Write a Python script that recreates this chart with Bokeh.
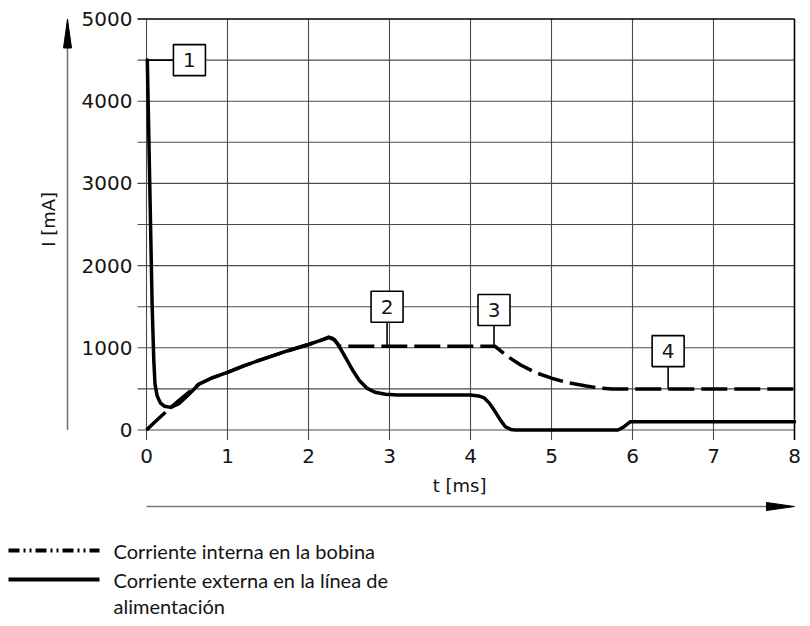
import math
from bokeh.plotting import figure
from bokeh.models import Range1d
from bokeh.core.properties import value
from bokeh.embed import file_html
from bokeh.resources import INLINE

# ---------------- data ----------------
# internal coil current (dashed)
t_coil = [0.0, 0.1, 0.2, 0.3, 0.45, 0.65, 0.8, 1.0, 1.2, 1.4, 1.7, 2.0, 2.15, 2.25, 2.32, 2.38,
          4.30, 4.45, 4.62, 4.80, 5.00, 5.20, 5.43, 5.60, 5.75, 8.0]
i_coil = [0, 95, 185, 275, 400, 560, 630, 700, 780, 850, 950, 1040, 1090, 1125, 1100, 1020,
          1020, 900, 790, 700, 630, 575, 535, 510, 500, 500]

# external current in the supply line (solid)
t_ext = [0.01, 0.04, 0.07, 0.09, 0.105, 0.13, 0.17, 0.22, 0.3, 0.4, 0.5, 0.65, 0.8, 1.0, 1.2, 1.4, 1.7,
         2.0, 2.15, 2.25, 2.3, 2.35, 2.4, 2.47, 2.55, 2.63, 2.72, 2.82, 2.95, 3.1,
         4.0, 4.1, 4.17, 4.23, 4.3, 4.37, 4.43, 4.5, 4.55, 5.82, 5.88, 5.97, 8.0]
i_ext = [4500, 3000, 1500, 850, 560, 420, 330, 290, 275, 320, 410, 560, 630, 700, 780, 850, 950,
         1040, 1090, 1130, 1115, 1060, 980, 860, 720, 600, 510, 460, 435, 425,
         425, 415, 390, 330, 230, 120, 40, 5, 0, 0, 30, 100, 100]

x_ticks = [0, 1, 2, 3, 4, 5, 6, 7, 8]
x_tick_labels = ["0", "1", "2", "3", "4", "5", "6", "7", "8"]
y_ticks = [0, 1000, 2000, 3000, 4000, 5000]
y_tick_labels = ["0", "1000", "2000", "3000", "4000", "5000"]
y_minor = [500, 1500, 2500, 3500, 4500]

callout_labels = ["1", "2", "3", "4"]
callout_x = [0.53, 2.97, 4.29, 6.44]
callout_y = [4500, 1500, 1460, 960]

legend_lines = ["Corriente interna en la bobina", "Corriente externa en la línea de", "alimentación"]

x_label = "t  [ms]"
y_label = "I  [mA]"

# ---------------- geometry (pixels) ----------------
W, H = 802, 618
PX_MS = 81.0          # pixels per ms
PX_MA = 0.0822        # pixels per mA
OX, OY = 146.0, 429.5  # canvas pixel of data origin (t=0, I=0)


def dx(px):  # pixel offset -> data x offset
    return px / PX_MS


def dy(px):  # pixel offset (upward) -> data y offset
    return px / PX_MA


def cx(px):  # canvas pixel x -> data x
    return (px - OX) / PX_MS


def cy(py):  # canvas pixel y (from top) -> data y
    return (OY - py) / PX_MA


p = figure(width=W, height=H, output_backend="svg", toolbar_location=None,
           x_range=Range1d(cx(0), cx(W)), y_range=Range1d(cy(H), cy(0)),
           x_axis_type=None, y_axis_type=None, min_border=0)
p.outline_line_color = None
p.xgrid.visible = False
p.ygrid.visible = False
p.background_fill_color = "white"
p.border_fill_color = "white"

grid_col = "#4a4a4a"
txt_col = "#141414"
tick_font = value("DejaVu Sans")
xmax = x_ticks[-1]
ymax = y_ticks[-1]

# horizontal grid lines (+ outward ticks)
hy = sorted(y_ticks[:-1] + y_minor)
p.segment(x0=[-dx(9)] * len(hy), y0=hy, x1=[xmax] * len(hy), y1=hy,
          line_color=grid_col, line_width=1.1)
# vertical grid lines (+ outward ticks)
vx = x_ticks[:-1]
p.segment(x0=vx, y0=[-dy(10)] * len(vx), x1=vx, y1=[ymax] * len(vx),
          line_color=grid_col, line_width=1.1)
# top and right borders
p.segment(x0=[-dx(9), xmax], y0=[ymax, -dy(10)], x1=[xmax, xmax], y1=[ymax, ymax],
          line_color="black", line_width=1.6)

# tick labels
p.text(x=[0] * len(y_ticks), y=y_ticks, text=y_tick_labels, x_offset=-14,
       text_align="right", text_baseline="middle", text_font=tick_font,
       text_font_size="20px", text_color=txt_col)
p.text(x=x_ticks, y=[0] * len(x_ticks), text=x_tick_labels, y_offset=26,
       text_align="center", text_baseline="middle", text_font=tick_font,
       text_font_size="20px", text_color=txt_col)

# axis labels
p.text(x=[cx(48)], y=[cy(216)], text=[y_label], angle=math.pi / 2,
       text_align="center", text_baseline="middle", text_font=tick_font,
       text_font_size="18px", text_color=txt_col)
p.text(x=[cx(462)], y=[cy(485)], text=[x_label],
       text_align="center", text_baseline="middle", text_font=tick_font,
       text_font_size="18px", text_color=txt_col)

# axis arrows
ax_x = cx(67)
p.segment(x0=[ax_x], y0=[0], x1=[ax_x], y1=[ymax - dy(20)], line_color="#777777", line_width=1.6)
p.patch(x=[ax_x, ax_x - dx(4), ax_x + dx(4)], y=[ymax, ymax - dy(29), ymax - dy(29)],
        fill_color="black", line_color="black", line_width=1)
ar_y = cy(506)
p.segment(x0=[0], y0=[ar_y], x1=[xmax - dx(20)], y1=[ar_y], line_color="#777777", line_width=1.6)
p.patch(x=[xmax, xmax - dx(28), xmax - dx(28)], y=[ar_y, ar_y + dy(4), ar_y - dy(4)],
        fill_color="black", line_color="black", line_width=1)

# curves
p.line(t_coil, i_coil, line_color="black", line_width=3.5, line_dash="26 7", line_join="round")
p.line(t_ext, i_ext, line_color="black", line_width=3.5, line_join="round", line_cap="round")

# callout leaders
p.segment(x0=[0, callout_x[1], callout_x[2], callout_x[3]],
          y0=[callout_y[0], callout_y[1], callout_y[2], callout_y[3]],
          x1=[callout_x[0], callout_x[1], callout_x[2], callout_x[3]],
          y1=[callout_y[0], 1020, 1020, 500],
          line_color="black", line_width=1.6)
# callout boxes
p.rect(x=callout_x, y=callout_y, width=32, height=31, width_units="screen", height_units="screen",
       fill_color="white", line_color="black", line_width=1.6)
p.text(x=callout_x, y=callout_y, text=callout_labels, text_align="center", text_baseline="middle",
       text_font=tick_font, text_font_size="20px", text_color=txt_col)

# legend
lx0, lx1 = cx(8), cx(99)
p.line([lx0, lx1], [cy(550)] * 2, line_color="black", line_width=4, line_dash="11 4 2 4 2 4")
p.line([lx0, lx1], [cy(579)] * 2, line_color="black", line_width=4)
p.text(x=[cx(113)] * 3, y=[cy(550), cy(579), cy(605)], text=legend_lines,
       text_align="left", text_baseline="middle", text_font=value("Lato"),
       text_font_size="20px", text_color=txt_col)

open("out.html", "w").write(file_html(p, INLINE))
